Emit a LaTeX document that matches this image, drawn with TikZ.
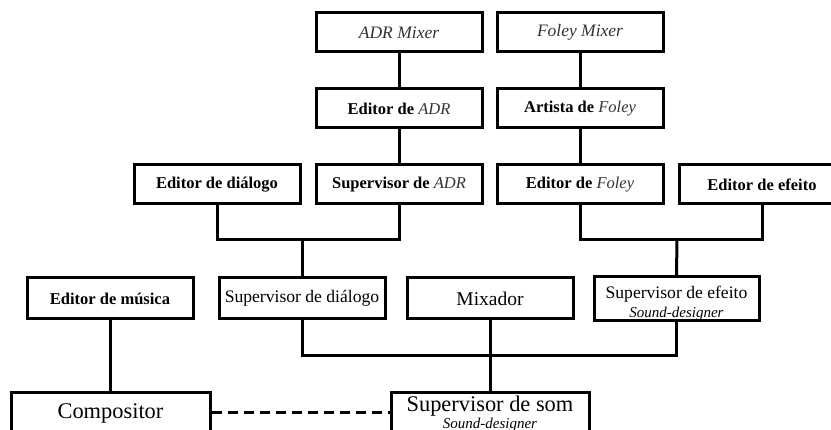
\documentclass[tikz,border=0pt]{standalone}
\usepackage{fontspec}
\setmainfont{Liberation Serif}
\begin{document}
\begin{tikzpicture}[x=1pt,y=-1pt,
  box/.style={draw=black, line width=3pt, minimum width=166pt, minimum height=39pt, inner sep=0pt, align=center},
  boxb/.style={box, font=\fontsize{16.5}{19}\selectfont\bfseries},
  boxr/.style={box, font=\fontsize{17.6}{20}\selectfont},
  boxi/.style={box, font=\fontsize{17.5}{20}\selectfont\itshape, text=black!80},
  big/.style={box, font=\fontsize{22.4}{24}\selectfont},
  conn/.style={draw=black, line width=3pt},
  dashconn/.style={draw=black, line width=3pt, dash pattern=on 10pt off 6pt}
]
\useasboundingbox (0,0) rectangle (831,430);
\clip (0,0) rectangle (831,430);
\fill[white] (0,0) rectangle (831,430);

\newcommand{\itx}[1]{{\mdseries\itshape\color{black!80}#1}}

% row 1
\node[boxi] (adrmix) at (399,32.5) {ADR Mixer};
\node[boxi] (folmix) at (580,32.5) {Foley Mixer};
% row 2
\node[boxb] (edadr) at (399,108.5) {Editor de \itx{ADR}};
\node[boxb] (artfol) at (580,108.5) {Artista de \itx{Foley}};
% row 3
\node[boxb] (eddia) at (217,184.5) {Editor de diálogo};
\node[boxb] (supadr) at (399,184.5) {Supervisor de \itx{ADR}};
\node[boxb] (edfol) at (580,184.5) {Editor de \itx{Foley}};
\node[boxb] (edefe) at (762,184.5) {Editor de efeito};
% row 4
\node[boxb, minimum height=41pt] (edmus) at (110,298.5) {Editor de música};
\node[boxr, minimum height=41pt] (supdia) at (302,298.5) {Supervisor de diálogo};
\node[box, minimum height=41pt, font=\fontsize{19.5}{22}\selectfont] (mix) at (490,298.5) {Mixador};
\node[boxr, minimum height=41pt, minimum width=165pt] (supefe) at (676.5,298.5)
  {\rule{0pt}{22pt}Supervisor de efeito\\[-1pt]{\fontsize{15}{15}\selectfont\itshape Sound-designer}};
% row 5
\node[big, minimum width=199pt, minimum height=40pt] (comp) at (110.5,413) {Compositor};
\node[big, minimum width=198pt, minimum height=40pt] (supsom) at (490,413)
  {\rule{0pt}{18pt}Supervisor de som\\[-7pt]{\fontsize{15}{15}\selectfont\itshape Sound-designer}};

% connectors
\draw[conn] (adrmix) -- (edadr);
\draw[conn] (edadr) -- (supadr);
\draw[conn] (folmix) -- (artfol);
\draw[conn] (artfol) -- (edfol);

\coordinate (m1) at (302,240);
\draw[conn] (eddia.south) |- (m1) -| (supadr.south);
\draw[conn] (m1) -- (supdia.north);

\coordinate (m2) at (677,240);
\draw[conn] (edfol.south) |- (m2) -| (edefe.south);
\draw[conn] (m2) -- (supefe.north);

\coordinate (m3) at (490,356);
\draw[conn] (supdia.south) |- (m3) -| (supefe.south);
\draw[conn] (mix.south) -- (supsom.north);

\draw[conn] (edmus.south) -- (edmus.south |- comp.north);
\draw[dashconn] (comp.east) -- (supsom.west);
\end{tikzpicture}
\end{document}
